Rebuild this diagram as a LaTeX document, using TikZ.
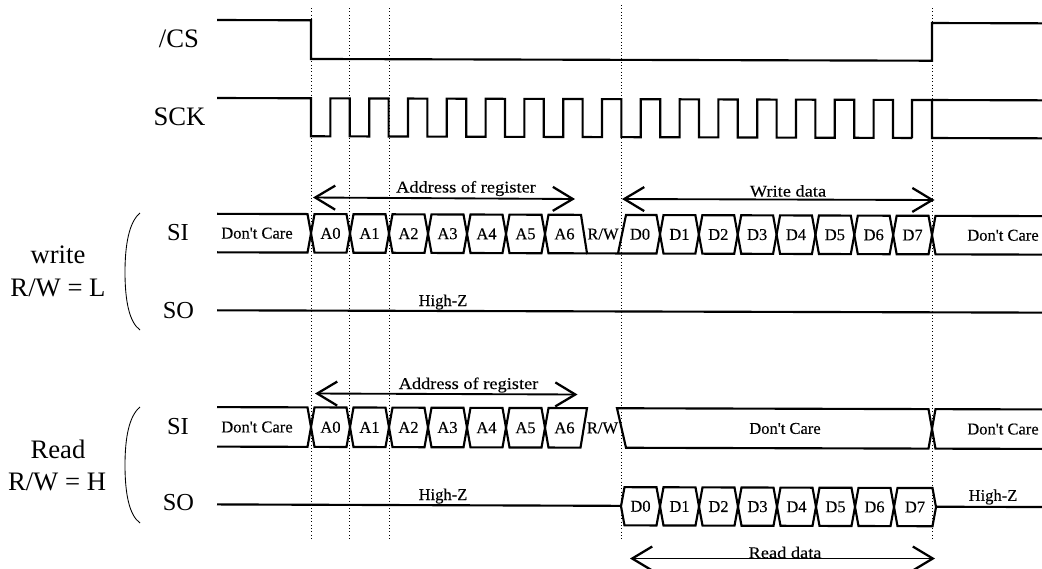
\documentclass[tikz,border=0pt]{standalone}
\usepackage{fontspec}
\setmainfont{Liberation Serif}
\newfontfamily\plainfont[FakeBold=0.2]{Liberation Serif}
\newfontfamily\widefont[FakeStretch=1.12,FakeBold=0.2]{Liberation Serif}
\usetikzlibrary{arrows.meta}
\tikzset{
  sig/.style={line width=1.6pt,line join=miter,miter limit=3},
  guide/.style={line width=0.55pt,dash pattern=on 0.8pt off 1.7pt},
  paren/.style={line width=0.65pt},
  span/.style={line width=1.4pt,{Straight Barb[length=15pt,width=18pt,line width=1.7pt]}-{Straight Barb[length=15pt,width=18pt,line width=1.7pt]}},
  buslabel/.style={font=\plainfont\fontsize{12.4}{14}\selectfont,inner sep=0pt},
  spanlabel/.style={font=\widefont\fontsize{12.3}{14}\selectfont,inner sep=0pt},
  siglabel/.style={font=\fontsize{18.3}{21}\selectfont,inner sep=0pt},
  clocklabel/.style={font=\fontsize{20}{23}\selectfont,inner sep=0pt},
  modelabel/.style={font=\fontsize{20}{23}\selectfont,inner sep=0pt}
}
\newcommand{\bcell}[5]{%
  \draw[sig] ({#1},{(#3+#4)/2}) -- ({#1+3.5},#3) -- ({#2-3.5},#3) -- ({#2},{(#3+#4)/2}) -- ({#2-3.5},#4) -- ({#1+3.5},#4) -- cycle;
  \node[buslabel] at ({(#1+#2)/2},{(#3+#4)/2}) {#5};}
\begin{document}
\begin{tikzpicture}[x=0.75pt,y=-0.75pt]
\useasboundingbox (0,0) rectangle (1042,568);
\foreach \gx/\ga/\gb in {311/8/540, 349.5/8/540, 389/8/540, 621/5/541, 932/8/541}
  \draw[guide] (\gx,\ga) -- (\gx,\gb);
\begin{scope}[yslant=-0.0028]
  % /CS
  \draw[sig] (217,19.4) -- (311,19.4) -- (311,58.1) -- (932,58.1) -- (932,20.4) -- (1042,20.4);
  % SCK
  \draw[sig] (217,97.4) -- (311,97.4) -- (311,135.4) -- (330.4,135.4)
    \foreach \k in {0,...,14} { -- ({330.4+38.8*\k},97.4) -- ({349.8+38.8*\k},97.4) -- ({349.8+38.8*\k},135.4) -- ({369.2+38.8*\k},135.4) }
    -- (912,135.4) -- (912,97.4) -- (1042,97.4);
  \draw[sig] (932,97.4) -- (932,135.4) -- (1042,135.4);
  % write SI
  \def\wt{213.2}\def\wb{251.7}\def\wm{232.45}
  \draw[sig] (217,\wt) -- (307.5,\wt) -- (311,\wm) -- (307.5,\wb) -- (217,\wb);
  \node[buslabel] (dcwl) at (257,\wm) {Don't Care};
  \foreach \i in {0,...,5} {\bcell{311+39*\i}{350+39*\i}{\wt}{\wb}{A\i}}
  \draw[sig] (545,\wm) -- (548.5,\wt) -- (581,\wt) -- (587,\wb) -- (618,\wb) -- (626,\wt) -- (656.5,\wt) -- (660,\wm) -- (656.5,\wb) -- (618,\wb);
  \draw[sig] (587,\wb) -- (548.5,\wb) -- (545,\wm);
  \node[buslabel] (aw6) at (564.5,\wm) {A6};
  \node[buslabel] (rww) at (603,\wm) {R/W};
  \node[buslabel] (dw0) at (640,\wm) {D0};
  \foreach \i [evaluate=\i as \j using {int(\i+1)}] in {0,...,6} {\bcell{660+38.86*\i}{698.86+38.86*\i}{\wt}{\wb}{D\j}}
  \draw[sig] (1042,\wt) -- (935.5,\wt) -- (932,\wm) -- (935.5,\wb) -- (1042,\wb);
  \node[buslabel] (dcwr) at (1003,\wm) {Don't Care};
  % write SO
  \draw[sig] (217,309.7) -- (1042,309.7);
  \node[buslabel] (hzw) at (443,300.8) {High-Z};
  % read SI
  \def\rt{406.5}\def\rb{446}\def\rm{426.25}
  \draw[sig] (217,\rt) -- (307.5,\rt) -- (311,\rm) -- (307.5,\rb) -- (217,\rb);
  \node[buslabel] (dcrl) at (257,\rm) {Don't Care};
  \foreach \i in {0,...,5} {\bcell{311+39*\i}{350+39*\i}{\rt}{\rb}{A\i}}
  \draw[sig] (587,\rt) -- (548.5,\rt) -- (545,\rm) -- (548.5,\rb) -- (580.5,\rb) -- cycle;
  \node[buslabel] (ar6) at (564.5,\rm) {A6};
  \node[buslabel] (rwr) at (602.5,\rm) {R/W};
  \draw[sig] (928.5,\rt) -- (617,\rt) -- (626,\rb) -- (928.5,\rb) -- (932,\rm) -- cycle;
  \node[buslabel] (dcrm) at (785,\rm) {Don't Care};
  \draw[sig] (1042,\rt) -- (935.5,\rt) -- (932,\rm) -- (935.5,\rb) -- (1042,\rb);
  \node[buslabel] (dcrr) at (1003,\rm) {Don't Care};
  % read SO
  \def\st{485.4}\def\sb{523.6}\def\sm{504.1}
  \draw[sig] (217,503.8) -- (621,\sm);
  \draw[sig] (936,\sm) -- (1042,\sm);
  \foreach \i in {0,...,6} {\bcell{621+39*\i}{660+39*\i}{\st}{\sb}{D\i}}
  \bcell{894}{936}{\st}{\sb}{D7}
  \node[buslabel] (hzr1) at (443,494.8) {High-Z};
  \node[buslabel] (hzr2) at (993,494.2) {High-Z};
\end{scope}
% spans
\coordinate (a1l) at (313,197.5); \coordinate (a1r) at (575,199);
\coordinate (wdl) at (622,199);   \coordinate (wdr) at (934.5,200);
\coordinate (a2l) at (315,393.5); \coordinate (a2r) at (577.5,394.5);
\coordinate (rdl) at (630,558.5); \coordinate (rdr) at (935,558.5);
\draw[span] (a1l) -- (a1r);
\draw[span] (wdl) -- (wdr);
\draw[span] (a2l) -- (a2r);
\draw[span] (rdl) -- (rdr);
\node[spanlabel] (addr1) at (466,188.5) {Address of register};
\node[spanlabel] (wdata) at (788,191) {Write data};
\node[spanlabel] (addr2) at (468.5,385) {Address of register};
\node[spanlabel] (rdata) at (785,552.5) {Read data};
% signal names
\node[clocklabel] (cs) at (179,39) {/CS};
\node[clocklabel] (sck) at (179.5,117) {SCK};
\node[siglabel] (siw) at (178,233) {SI};
\node[siglabel] (sow) at (178.5,311) {SO};
\node[siglabel] (sir) at (178,427) {SI};
\node[siglabel] (sor) at (178.5,503) {SO};
\node[modelabel] (mw1) at (58,255) {write};
\node[modelabel] (mw2) at (58,288) {R/W = L};
\node[modelabel] (mr1) at (58,449) {Read};
\node[modelabel] (mr2) at (57,482) {R/W = H};
% parens
\draw[paren] (140,213) .. controls (129,222) and (125,245) .. (125,272) .. controls (125,300) and (129,322) .. (140,330);
\draw[paren] (140,407) .. controls (129,416) and (125,438) .. (125,465) .. controls (125,493) and (129,515) .. (140,523);
\end{tikzpicture}
\end{document}
